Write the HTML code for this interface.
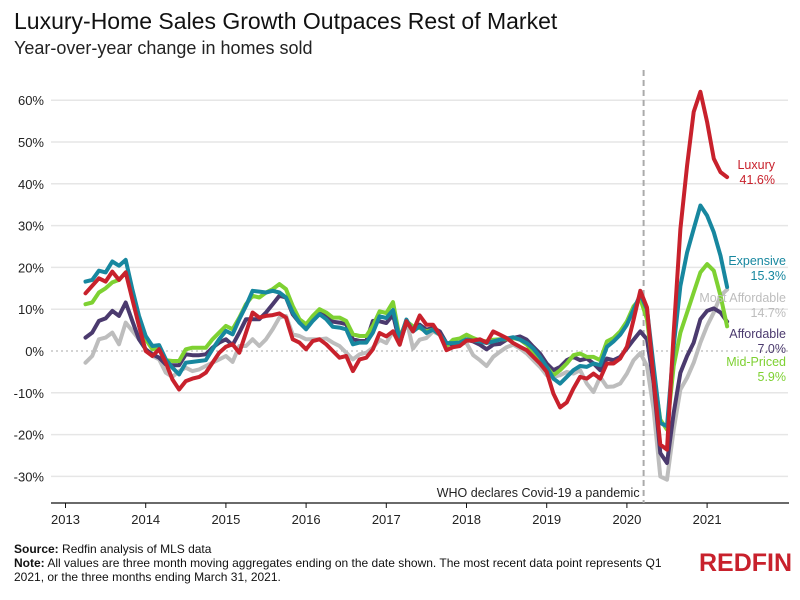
<!DOCTYPE html>
<html><head><meta charset="utf-8"><style>
body{margin:0;background:#fff;font-family:"Liberation Sans",sans-serif;}
#wrap{position:relative;width:800px;height:600px;overflow:hidden;}
.t{position:absolute;white-space:nowrap;}
</style></head><body>
<div id="wrap">
<div class="t" style="left:14px;top:8px;font-size:23px;color:#111;">Luxury-Home Sales Growth Outpaces Rest of Market</div>
<div class="t" style="left:14px;top:38px;font-size:18px;color:#222;">Year-over-year change in homes sold</div>
<svg id="chart" width="800" height="600" style="position:absolute;left:0;top:0"></svg>
<div class="t" style="left:14px;top:542px;font-size:12px;color:#111;"><b>Source:</b> Redfin analysis of MLS data</div>
<div class="t" style="left:14px;top:556px;font-size:12px;color:#111;line-height:14px;"><b>Note:</b> All values are three month moving aggregates ending on the date shown. The most recent data point represents Q1<br>2021, or the three months ending March 31, 2021.</div>
<div class="t" style="left:699px;top:549px;font-size:25px;font-weight:bold;color:#c8212c;letter-spacing:0px;">REDFIN</div>
</div>
<script>
const yTicks=[60,50,40,30,20,10,0,-10,-20,-30];
const yearLabels=["2013","2014","2015","2016","2017","2018","2019","2020","2021"];
const startMonth=3;
const luxury=[13.8,15.6,17.4,16.6,19,17,18.8,12.4,6,0,-1.2,0.4,-2.8,-6.8,-9.2,-7.2,-6.6,-6.2,-5.2,-2.8,-0.4,1,1.6,-0.4,4.4,9.2,8,8.4,8.6,9,8,2.8,2,0.4,2.4,2.8,1.6,0,-1.6,-1.2,-4.8,-2,-1.6,0.4,
4.3,3.5,4.7,1.5,7.1,4.7,8.5,6.3,6.3,3.9,0.2,0.9,1.2,2.5,2.5,2.8,2,4.7,3.9,3.1,1.9,1,0.2,-1.4,-3,-5,-10.2,-13.5,-12.3,-9,-6.2,-6.6,-5.4,-6.6,-3,-3,-1.8,1,7.5,14.4,
10.4,-6.8,-22.4,-23.6,4.4,29.2,44.4,57.2,62,54.8,46,42.8,41.6];
const expensive=[16.6,17,19.2,18.8,21.4,20.4,21.8,14.8,8.4,3.6,1.2,1.4,-2,-4,-5.6,-2.8,-2.6,-2.4,-2.2,0.4,2.8,4.8,4,7.6,10.8,14.4,14.2,14,14.4,14,12.8,9.2,6.8,5.2,7.2,8.8,7.6,5.8,5.6,5.2,1.6,2,2,4.4,
8.3,7.9,9.8,2.7,7.5,4.7,5.9,4.3,5.1,3.9,1.9,1.9,2,2.8,2.5,2.3,1.9,2.3,2.7,3,3.3,2.7,1.9,0.6,-1.4,-3.8,-6.6,-7.8,-6.2,-4.6,-3.6,-3.8,-3,-3.4,1,2.3,3.9,6.3,9.9,13.5,
10,-3.6,-17.2,-18,1.2,15.6,23.6,29.2,34.8,32.4,28.4,22.8,15.3];
const midPriced=[11.2,11.6,14,15,16.4,17,18.8,14,7.6,2.8,0.4,0.8,-2.2,-2.4,-2.4,0.4,0.8,0.8,0.8,2.8,4.4,6,5.2,8,11.2,13.2,12.8,14,14.8,16,14.8,10.8,7.6,6.4,8.4,10,9.2,8,8,7.2,4,3.6,3.6,6,
9.5,9.1,11.7,3.1,7.1,5.9,5.5,4.7,5.1,3.9,1.2,2.7,3,3.9,3.1,2.5,2.3,2.7,2.8,2.8,3.1,2.7,1.5,-0.2,-1.8,-3.8,-5.8,-4.6,-3,-1,-0.6,-1.4,-1.4,-2.2,2.3,3.1,4.7,7.1,10.7,12.5,
7.6,-5.2,-16.4,-18.8,-3.6,4.4,9.2,14,18.8,20.8,19.2,13.2,5.9];
const affordable=[3.2,4.4,7.2,7.8,9.6,8.4,11.6,7.2,2.8,0.4,-0.8,-1.6,-3.2,-3.4,-3.4,-0.8,-1,-1,-0.8,0.8,2,2.8,1.4,4.4,7.6,7.6,7.6,9.2,11.2,13.2,12.8,8.8,6.8,5.6,7.6,9.2,8.2,7,6.8,6.4,2.8,2.4,2.4,7.2,
7.1,6.7,8.7,1.9,6.7,5.5,6.3,5.1,5.5,4.7,1.9,1.5,1.9,2.7,2.3,1.5,0.4,1.5,1.7,2.7,3.1,3.5,2.7,1,-0.6,-3,-4.6,-3.8,-2.2,-1.4,-2.2,-1.8,-3,-4.6,-1.8,-2.2,-1.4,0.6,2.7,4.7,
2.8,-7.6,-24.4,-26.8,-14.8,-5.2,-1.2,2,7.6,9.6,10.2,9.2,7.0];
const mostAffordable=[-2.8,-1.2,2.8,3.2,4.4,1.6,6.8,4.8,2.8,0.4,-1.2,-2,-5.2,-6.2,-4.8,-4,-4.8,-4.4,-3.6,-2.8,-2,-1.2,-2.6,1.2,1.2,2.8,1.2,2.8,5.2,8,8.4,4,3.6,2.8,2.8,2.8,3,2,1.2,-0.4,-2,-0.8,-0.4,0.8,
2.7,1.9,4.7,1.5,7.5,0.6,2.7,3.1,4.7,3.9,1,1.5,1.9,1.9,-1,-2.2,-3.6,-1.4,-0.2,0.9,1.5,0.6,-0.6,-2.2,-3.8,-5.8,-6.2,-5.8,-5,-5.4,-4.6,-7.8,-9.8,-6.2,-8.6,-8.5,-7.8,-5.4,-2.2,-0.5,
-3.6,-14,-30,-30.8,-18.8,-9.2,-6.4,-2.8,2,6,9.2,13.2,14.7];
const seriesNames=["Most Affordable","Affordable","Mid-Priced","Expensive","Luxury"];
const seriesColors=["#bdbdbd","#4b3a6e","#7ed132","#17879f","#c8212c"];
const seriesData=[mostAffordable,affordable,midPriced,expensive,luxury];
const legendValues=["14.7%","7.0%","5.9%","15.3%","41.6%"];

const NS="http://www.w3.org/2000/svg";
const svg=document.getElementById("chart");
function x(m){return 65.5+m*80.2/12;}
function y(v){return 351-v*4.18;}
function mk(tag,attrs,parent){const e=document.createElementNS(NS,tag);for(const k in attrs)e.setAttribute(k,attrs[k]);(parent||svg).appendChild(e);return e;}

yTicks.forEach(v=>{
  const g=mk("line",{x1:51,x2:788,y1:y(v),y2:y(v),stroke:v===0?"#aaa":"#e6e6e6","stroke-width":v===0?1:1.5,"stroke-dasharray":v===0?"2,3":"none"});
  
  
  const t=mk("text",{x:44,y:y(v)+5,"text-anchor":"end","font-size":13,fill:"#222","font-family":"Liberation Sans, sans-serif"});
  t.textContent=v+"%";
  
  
});
const ax=mk("line",{x1:51,x2:789,y1:503,y2:503,stroke:"#111","stroke-width":1.2});


yearLabels.forEach((lab,i)=>{
  const tk=mk("line",{x1:x(i*12),x2:x(i*12),y1:503,y2:508,stroke:"#111"});
  
  
  const t=mk("text",{x:x(i*12),y:524,"text-anchor":"middle","font-size":13,fill:"#222","font-family":"Liberation Sans, sans-serif"});
  t.textContent=lab;
  
  
});
const covidMonth=86.5;
const dl=mk("line",{x1:x(covidMonth),x2:x(covidMonth),y1:70,y2:503,stroke:"#aaa","stroke-width":2,"stroke-dasharray":"6,4"});


const dlt=mk("text",{x:x(covidMonth)-4,y:497,"text-anchor":"end","font-size":12.5,fill:"#222","font-family":"Liberation Sans, sans-serif"});
dlt.textContent="WHO declares Covid-19 a pandemic";



seriesData.forEach((arr,si)=>{
  const d=arr.map((v,i)=>(i?"L":"M")+x(startMonth+i).toFixed(1)+","+y(v).toFixed(1)).join("");
  const p=mk("path",{d:d,fill:"none",stroke:seriesColors[si],"stroke-width":4,"stroke-linejoin":"round","stroke-linecap":"round"});
  
  
});
const labelPos=[[786,302],[786,338],[786,366],[786,265],[775,169]];
seriesNames.forEach((n,si)=>{
  const t=mk("text",{x:labelPos[si][0],y:labelPos[si][1],"text-anchor":"end","font-size":12.5,fill:seriesColors[si],"font-family":"Liberation Sans, sans-serif"});
  t.textContent=n;
  
  
  const v=mk("text",{x:labelPos[si][0],y:labelPos[si][1]+15,"text-anchor":"end","font-size":12.5,fill:seriesColors[si],"font-family":"Liberation Sans, sans-serif"});
  v.textContent=legendValues[si];
  
  
});
</script>
</body></html>
